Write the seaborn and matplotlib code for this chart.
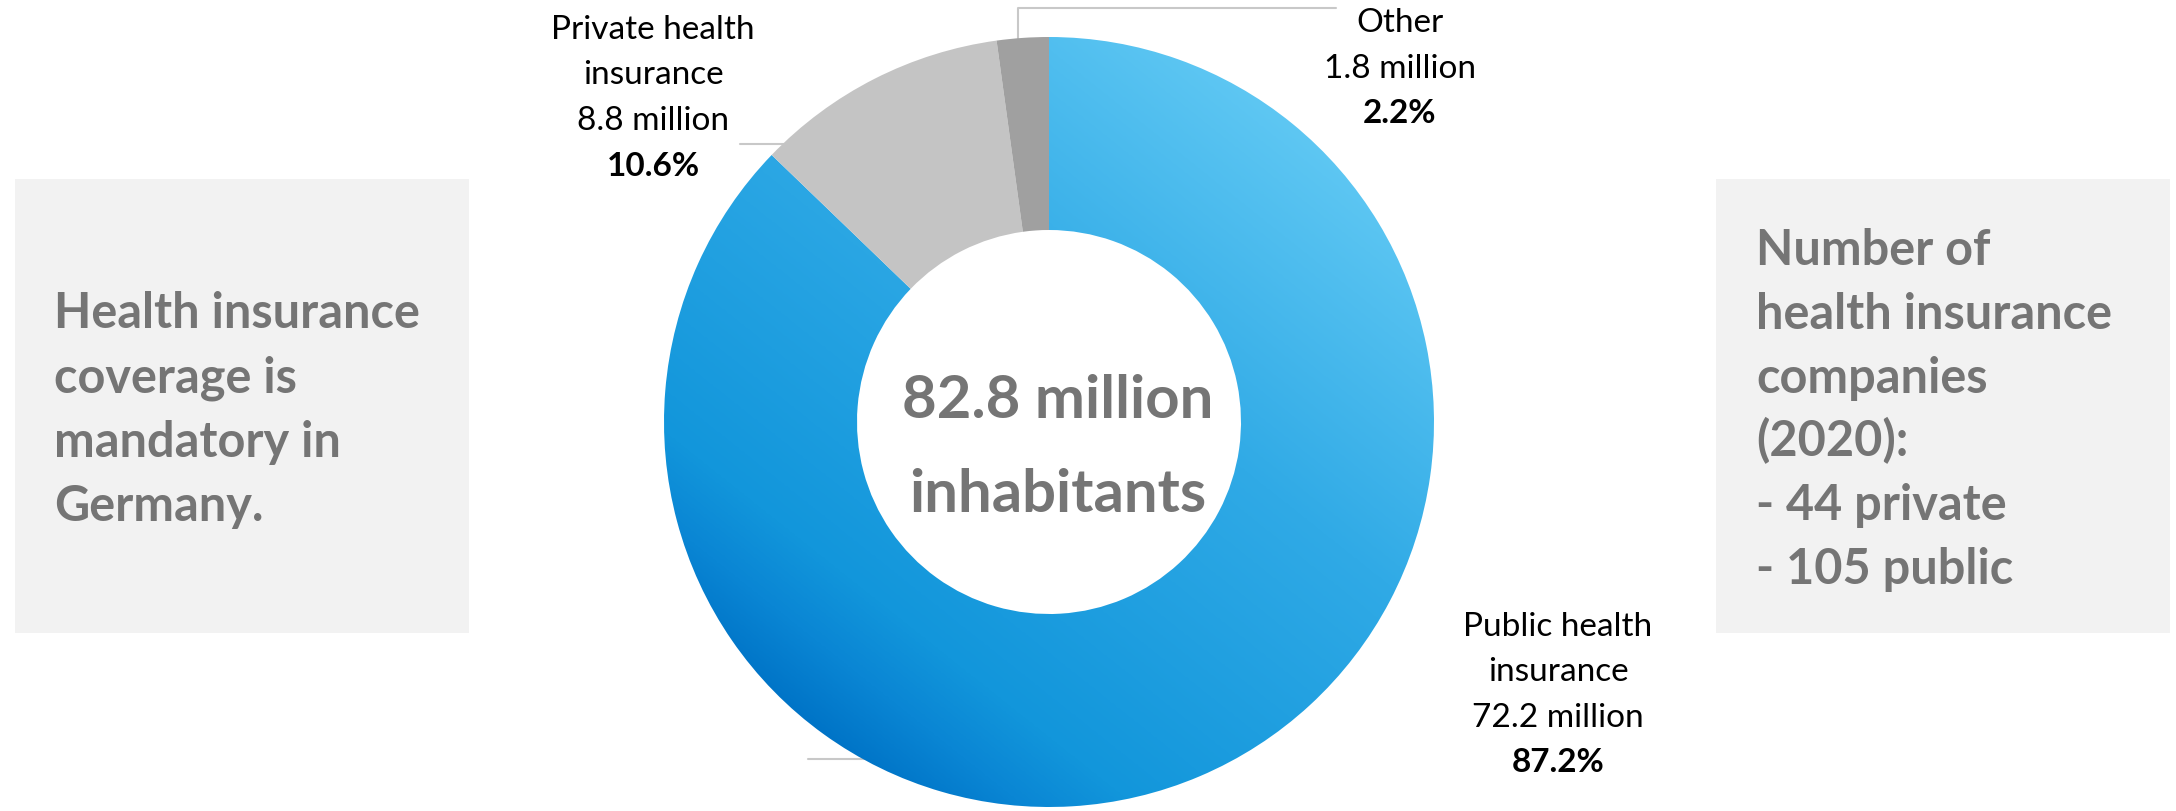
import numpy as np
import matplotlib
matplotlib.use("Agg")
import matplotlib.pyplot as plt
from matplotlib.colors import LinearSegmentedColormap
from matplotlib.patches import Rectangle
import seaborn as sns

# ---------------- data ----------------
categories = ["Public health insurance", "Private health insurance", "Other"]
label_names = [["Public health", "insurance"], ["Private health", "insurance"], ["Other"]]
millions = [72.2, 8.8, 1.8]
shares = [87.2, 10.6, 2.2]
total_text = ["82.8 million", "inhabitants"]
left_box_lines = ["Health insurance", "coverage is", "mandatory in", "Germany."]
right_box_lines = ["Number of", "health insurance", "companies", "(2020):",
                   "- 44 private", "- 105 public"]

# ---------------- style ----------------
sns.set_theme(style="white")
plt.rcParams['font.family'] = ['Lato', 'DejaVu Sans']

W, H = 2176, 812
fig = plt.figure(figsize=(W / 100, H / 100), dpi=100)
ax = fig.add_axes([0, 0, 1, 1])

def Y(y):
    return H - y

cx, cy, r = 1049, Y(423), 385
ring = 193

wedges, _ = ax.pie(millions, radius=r, center=(cx, cy), startangle=90,
                   counterclock=False, colors=["#1A9EE0", "#C4C4C4", "#A0A0A0"],
                   wedgeprops=dict(width=ring, linewidth=0))

# gradient for the public wedge
pub = wedges[0]
pub.set_facecolor("none")
cmap = LinearSegmentedColormap.from_list(
    "blue", [(0.0, "#0074C7"), (0.09, "#0A86D4"), (0.18, "#1296DB"),
             (0.61, "#30AAE6"), (1.0, "#5EC7F3")])
xs = np.linspace(-1, 1, 600)
Xg, Yg = np.meshgrid(xs, xs)
G = (Xg * 0.62 + Yg * 0.78)
im = ax.imshow(G, extent=(cx - r, cx + r, cy - r, cy + r), origin="lower",
               cmap=cmap, vmin=-1, vmax=1, zorder=0.5, interpolation="bilinear")
im.set_clip_path(pub)

# boxes
ax.add_patch(Rectangle((15, Y(634)), 454, 454, facecolor="#F2F2F2", edgecolor="none", zorder=0))
ax.add_patch(Rectangle((1716, Y(634)), 454, 454, facecolor="#F2F2F2", edgecolor="none", zorder=0))

gray = "#757575"
for i, t in enumerate(left_box_lines):
    ax.text(54, Y(328 + 64.4 * i), t, fontsize=35, fontweight="bold", color=gray,
            ha="left", va="baseline")
for i, t in enumerate(right_box_lines):
    ax.text(1756, Y(265 + 63.8 * i), t, fontsize=35, fontweight="bold", color=gray,
            ha="left", va="baseline")

# center text
ax.text(1058, Y(418), total_text[0], fontsize=43, fontweight="bold", color=gray,
        ha="center", va="baseline")
ax.text(1058, Y(512), total_text[1], fontsize=43, fontweight="bold", color=gray,
        ha="center", va="baseline")

# data labels
label_pos = {0: (1558, 636), 1: (653, 39), 2: (1400, 32)}
for i in range(len(categories)):
    x0, y0 = label_pos[i]
    lines = label_names[i] + [f"{millions[i]:.1f} million"]
    for j, t in enumerate(lines):
        ax.text(x0, Y(y0 + 45.5 * j), t, fontsize=24, color="black",
                ha="center", va="baseline")
    ax.text(x0, Y(y0 + 45.5 * len(lines)), f"{shares[i]:.1f}%", fontsize=24,
            fontweight="bold", color="black", ha="center", va="baseline")

# leader lines
lc = "#C8C8C8"
ax.plot([1018, 1018, 1336], [Y(40), Y(9), Y(9)], color=lc, lw=1.5, zorder=0.4)
ax.plot([740, 790], [Y(145), Y(145)], color=lc, lw=1.5, zorder=0.4)
ax.plot([808, 880], [Y(760), Y(760)], color=lc, lw=1.5, zorder=0.4)

ax.set_xlim(0, W)
ax.set_ylim(0, H)
ax.set_aspect("auto")
ax.axis("off")
fig.savefig("out.png", dpi=100, facecolor="white")
